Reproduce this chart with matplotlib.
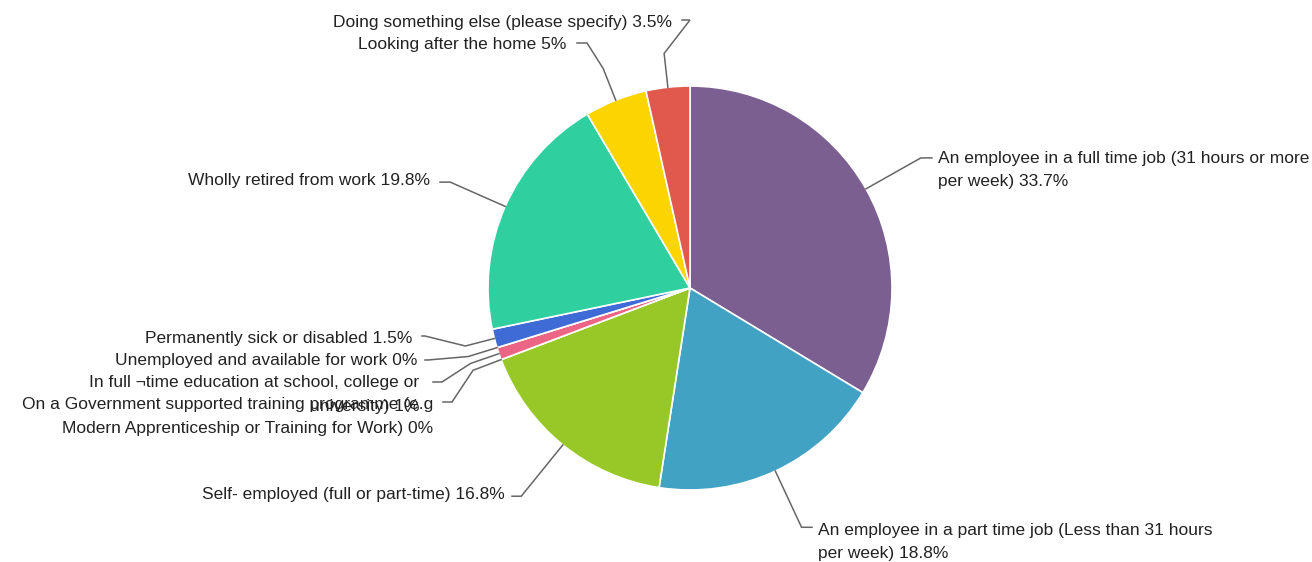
import numpy as np
import matplotlib
matplotlib.use("Agg")
import matplotlib.pyplot as plt

# ---- data ----
labels = [
    "An employee in a full time job (31 hours or more\nper week)",
    "An employee in a part time job (Less than 31 hours\nper week)",
    "Self- employed (full or part-time)",
    "On a Government supported training programme (e.g\nModern Apprenticeship or Training for Work)",
    "In full \u00actime education at school, college or\nuniversity)",
    "Unemployed and available for work",
    "Permanently sick or disabled",
    "Wholly retired from work",
    "Looking after the home",
    "Doing something else (please specify)",
]
values = [33.7, 18.8, 16.8, 0, 1, 0, 1.5, 19.8, 5, 3.5]
colors = ["#7b5f91", "#41a2c3", "#97c827", "#97c827", "#ec6585", "#3f6bd6",
          "#3f6bd6", "#2fcfa0", "#fcd400", "#e0594c"]

# ---- layout (pixel coordinates, y downward) ----
CX, CY, R = 690, 288, 202
# radial outer point radius, knee point (None = outer point), horizontal end x,
# text x, first-line y, ha
layout = [
    (265, None, 932, 938, 158, "left"),
    (264, None, 812, 818, 530, "left"),
    (268, None, 512, 505, 494, "right"),
    (232, (452, 402), 443, 433, 405, "right"),
    (232, (442, 382), 433, 419, 383, "right"),
    (232, (428, 360), 425, 417, 360, "right"),
    (232, (425, 336), 422, 412, 338, "right"),
    (262, None, 440, 430, 180, "right"),
    (236, (587, 43), 577, 566, 45, "right"),
    (236, (690, 20), 682, 672, 23, "right"),
]
LH = 23.5

W, H = 1312, 562
fig = plt.figure(figsize=(W / 100, H / 100), dpi=100)
ax = fig.add_axes([0, 0, 1, 1])

total = sum(values)
ax.pie(values, colors=colors, startangle=-90, counterclock=True,
       center=(CX, CY), radius=R, frame=True,
       wedgeprops=dict(edgecolor="white", linewidth=1.2))
ax.set_xlim(0, W)
ax.set_ylim(H, 0)
ax.set_aspect("equal")
ax.axis("off")

cum = np.cumsum([0] + values)
for i, (lab, v) in enumerate(zip(labels, values)):
    mid = (cum[i] + v / 2) / total * 2 * np.pi
    dx, dy = np.sin(mid), -np.cos(mid)
    r_out, knee, hx, tx, ty, ha = layout[i]
    ex, ey = CX + R * dx, CY + R * dy
    ox, oy = CX + r_out * dx, CY + r_out * dy
    if knee is None:
        xs, ys = [ex, ox, hx], [ey, oy, oy]
    else:
        kx, ky = knee
        xs, ys = [ex, ox, kx, hx], [ey, oy, ky, ky]
    ax.plot(xs, ys, color="#666666", lw=1.1, solid_joinstyle="miter", zorder=3)
    text = f"{lab} {v:g}%"
    for j, line in enumerate(text.split("\n")):
        ax.text(tx, ty + j * LH, line, ha=ha, va="center", fontsize=12.5,
                family="Liberation Sans", color="#222222")

fig.savefig("out.png", dpi=100, facecolor="white")
